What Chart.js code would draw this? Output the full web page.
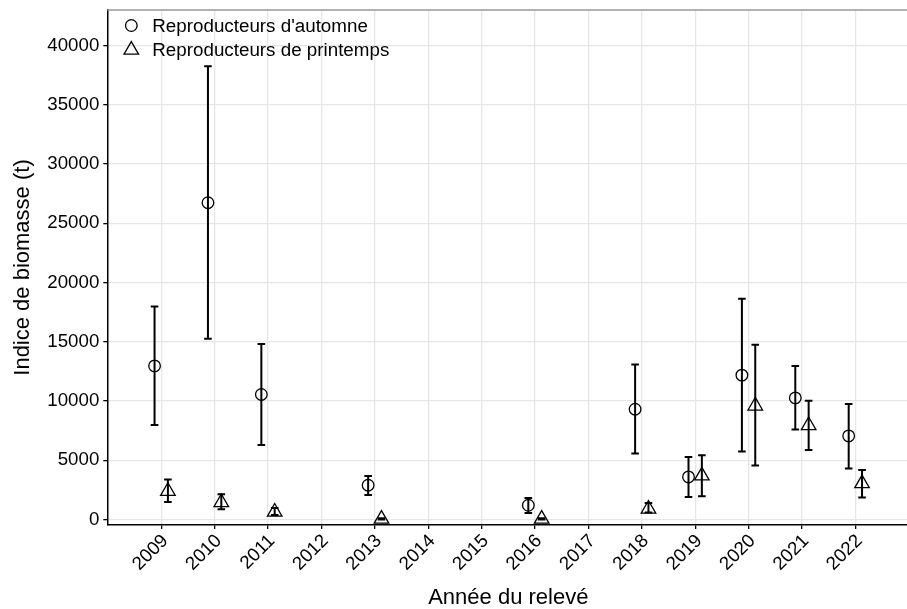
<!DOCTYPE html>
<html>
<head>
<meta charset="utf-8">
<script src="https://cdn.jsdelivr.net/npm/chart.js@4/dist/chart.umd.min.js"></script>
<style>
  html, body { margin: 0; padding: 0; background: #fff; overflow: hidden; }
  #wrap { width: 919px; height: 609px; }
</style>
</head>
<body>
<div id="wrap"><canvas id="biomassChart"></canvas></div>
<script>
// Tick years on the x axis
const years = [2009, 2010, 2011, 2012, 2013, 2014, 2015, 2016, 2017, 2018, 2019, 2020, 2021, 2022];
const yTicks = [0, 5000, 10000, 15000, 20000, 25000, 30000, 35000, 40000];

// Autumn spawners (circles)
const autumnYears = [2009, 2010, 2011, 2013, 2016, 2018, 2019, 2020, 2021, 2022];
const autumnBiomass = [12970, 26740, 10560, 2900, 1210, 9315, 3600, 12190, 10270, 7060];
const autumnLow = [7990, 15250, 6300, 2080, 560, 5570, 1910, 5740, 7600, 4310];
const autumnHigh = [17990, 38260, 14810, 3680, 1830, 13090, 5290, 18630, 12950, 9760];

// Spring spawners (triangles)
const springYears = [2009, 2010, 2011, 2013, 2016, 2018, 2019, 2020, 2021, 2022];
const springBiomass = [2400, 1450, 650, 50, 50, 900, 3700, 9600, 7950, 3050];
const springLow = [1490, 870, 380, 0, 0, 600, 1970, 4560, 5880, 1860];
const springHigh = [3380, 2140, 980, 120, 120, 1400, 5430, 14750, 10020, 4190];

const DODGE = 0.125;
const FONT = '"Liberation Sans", Arial, sans-serif';

function buildPoints(yrs, vals, lows, highs, shift) {
  return yrs.map((yr, i) => ({ x: yr + shift, y: vals[i], low: lows[i], high: highs[i] }));
}

// error bars drawn through the chart scales
const errorBars = {
  id: 'errorBars',
  beforeDatasetsDraw(chart) {
    const { ctx, scales: { x, y } } = chart;
    ctx.save();
    ctx.strokeStyle = '#000';
    ctx.lineWidth = 2;
    chart.data.datasets.forEach(ds => {
      ds.data.forEach(p => {
        const px = x.getPixelForValue(p.x);
        const top = y.getPixelForValue(p.high);
        const bot = y.getPixelForValue(p.low);
        ctx.beginPath();
        ctx.moveTo(px, top); ctx.lineTo(px, bot);
        ctx.moveTo(px - 3.8, top); ctx.lineTo(px + 3.8, top);
        ctx.moveTo(px - 3.8, bot); ctx.lineTo(px + 3.8, bot);
        ctx.stroke();
      });
    });
    ctx.restore();
  }
};

// legend inside the panel, top left, plus the thin top frame line
const insideLegend = {
  id: 'insideLegend',
  afterDraw(chart) {
    const { ctx, chartArea } = chart;
    ctx.save();
    ctx.strokeStyle = '#999';
    ctx.lineWidth = 1.5;
    ctx.beginPath();
    ctx.moveTo(chartArea.left, chartArea.top);
    ctx.lineTo(chartArea.right, chartArea.top);
    ctx.stroke();

    ctx.strokeStyle = '#000';
    ctx.lineWidth = 1.3;
    ctx.fillStyle = '#000';
    ctx.font = '18.8px ' + FONT;
    ctx.textBaseline = 'middle';
    chart.data.datasets.forEach((ds, i) => {
      const cx = chartArea.left + 24;
      const cy = chartArea.top + 15.5 + i * 24.5;
      const r = ds.pointRadius;
      ctx.beginPath();
      if (ds.pointStyle === 'triangle') {
        ctx.moveTo(cx, cy - r);
        ctx.lineTo(cx + r * Math.sqrt(3) / 2, cy + r / 2);
        ctx.lineTo(cx - r * Math.sqrt(3) / 2, cy + r / 2);
        ctx.closePath();
      } else {
        ctx.arc(cx, cy, r, 0, Math.PI * 2);
      }
      ctx.stroke();
      ctx.fillText(ds.label, chartArea.left + 45, cy + 1);
    });
    ctx.restore();
  }
};

const ctx = document.getElementById('biomassChart').getContext('2d');
new Chart(ctx, {
  type: 'scatter',
  data: {
    datasets: [{
      label: "Reproducteurs d'automne",
      data: buildPoints(autumnYears, autumnBiomass, autumnLow, autumnHigh, -DODGE),
      pointStyle: 'circle',
      pointRadius: 5.8,
      borderColor: '#000',
      backgroundColor: 'rgba(0,0,0,0)',
      borderWidth: 1.3,
      clip: false
    }, {
      label: 'Reproducteurs de printemps',
      data: buildPoints(springYears, springBiomass, springLow, springHigh, DODGE),
      pointStyle: 'triangle',
      pointRadius: 8.4,
      borderColor: '#000',
      backgroundColor: 'rgba(0,0,0,0)',
      borderWidth: 1.3,
      clip: false
    }]
  },
  options: {
    responsive: true,
    maintainAspectRatio: false,
    animation: false,
    layout: { padding: { top: 10, right: 0, left: 0, bottom: 0 } },
    plugins: {
      legend: { display: false },
      tooltip: { enabled: false }
    },
    scales: {
      x: {
        type: 'linear',
        min: 2007.99,
        max: 2023.01,
        afterBuildTicks: s => { s.ticks = years.map(v => ({ value: v })); },
        afterFit: s => { s.height = 84; s.paddingLeft = 0; s.paddingRight = 0; },
        ticks: {
          autoSkip: false,
          minRotation: 45,
          maxRotation: 45,
          padding: 1,
          labelOffset: 4,
          color: '#000',
          font: { family: FONT, size: 18.7 },
          callback: v => String(v)
        },
        grid: { color: '#e6e6e6', lineWidth: 1.3, tickColor: '#000', tickLength: 4 },
        border: { color: '#000', width: 1.5 },
        title: {
          display: true,
          text: 'Année du relevé',
          color: '#000',
          font: { family: FONT, size: 22 },
          padding: { top: 0, bottom: -2 }
        }
      },
      y: {
        min: -456,
        max: 43000,
        afterBuildTicks: s => { s.ticks = yTicks.map(v => ({ value: v })); },
        afterFit: s => { s.width = 107.3; s.paddingTop = 0; s.paddingBottom = 0; },
        ticks: {
          padding: 4,
          color: '#000',
          font: { family: FONT, size: 18.7 },
          callback: v => String(v)
        },
        grid: { color: '#e6e6e6', lineWidth: 1.3, tickColor: '#000', tickLength: 4 },
        border: { color: '#000', width: 1.5 },
        title: {
          display: true,
          text: 'Indice de biomasse (t)',
          color: '#000',
          font: { family: FONT, size: 22 },
          padding: { top: 10, bottom: 0 }
        }
      }
    }
  },
  plugins: [errorBars, insideLegend]
});
</script>
</body>
</html>
